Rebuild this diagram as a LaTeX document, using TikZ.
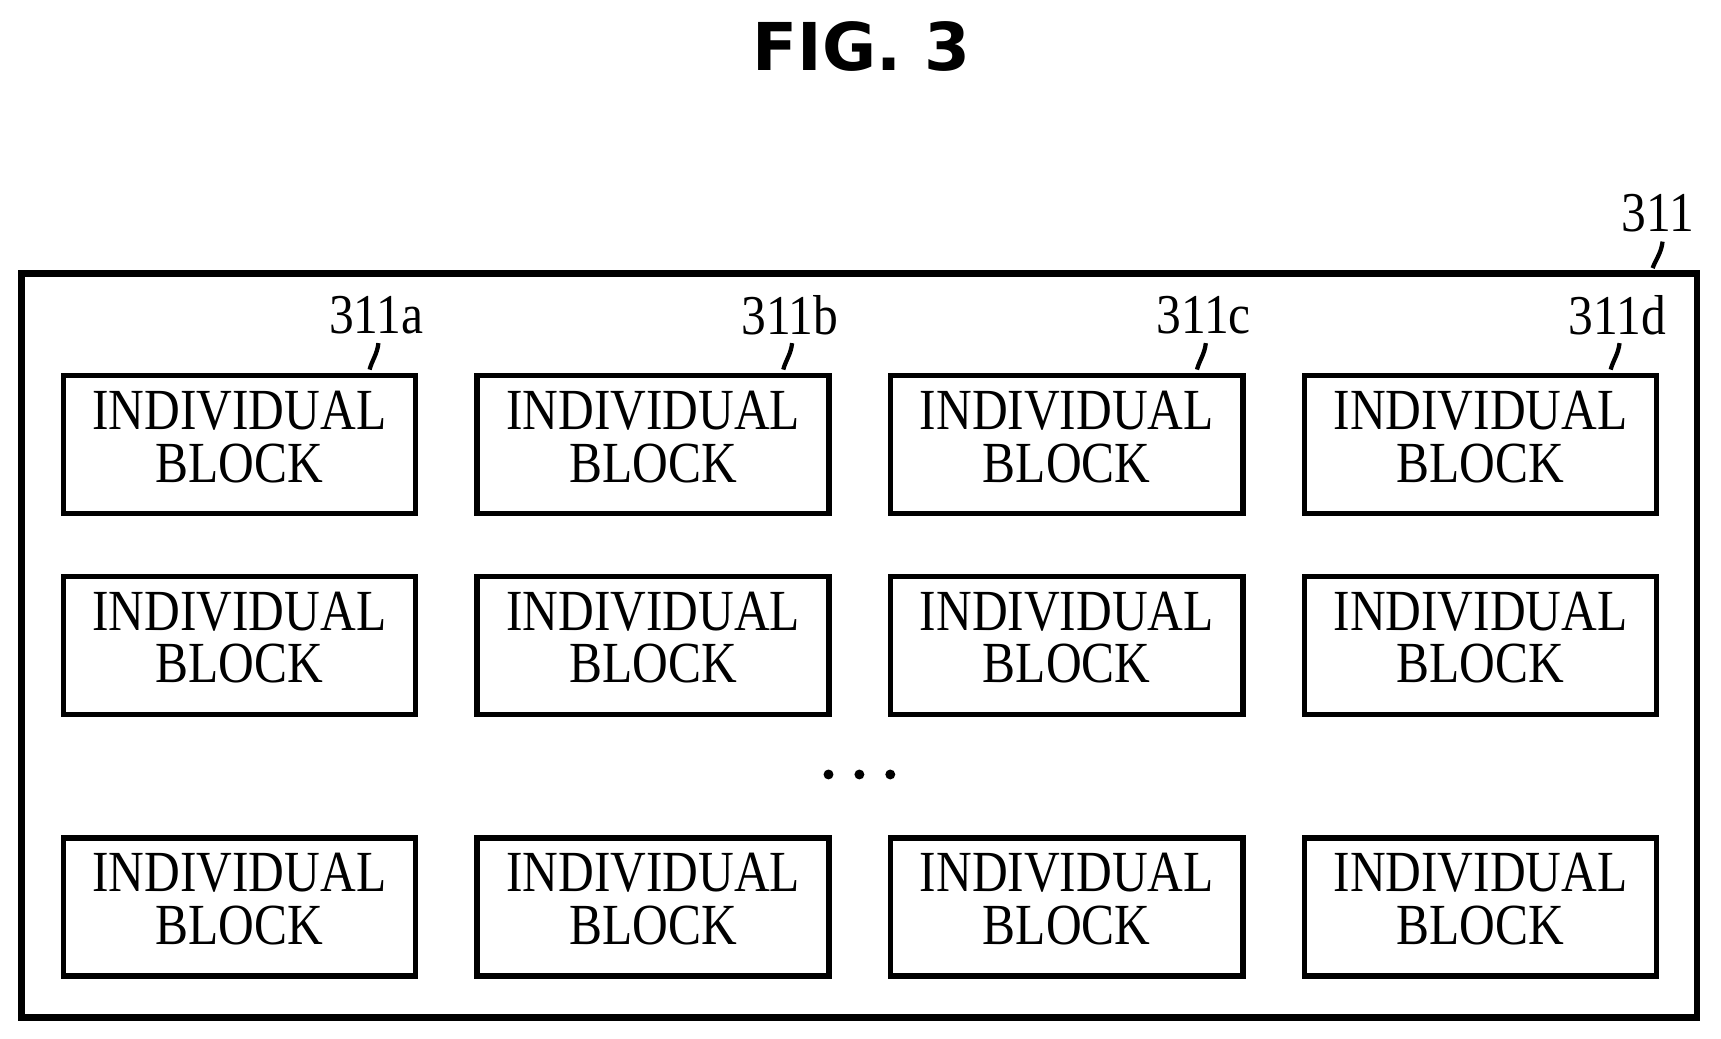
\documentclass[tikz,border=0pt]{standalone}
\usepackage{fontspec}
\setmainfont{Liberation Serif}
\setsansfont{DejaVu Sans}
\newcommand{\blocktext}{\scalebox{0.85}[1]{\fontsize{15}{14.5}\selectfont\begin{tabular}{@{}c@{}}INDIVIDUAL\\[-1pt]BLOCK\end{tabular}}}
\newcommand{\reftext}[1]{\scalebox{0.88}[1]{\fontsize{14.5}{15}\selectfont #1}}
\begin{document}
\begin{tikzpicture}
  [
    x=0.01cm, y=-0.01cm,
    block/.style = {draw, line width=1.4pt, minimum width=3.19cm, minimum height=1.25cm, inner sep=0pt},
    leader/.style = {line width=1.1pt},
  ]
  \useasboundingbox (0,0) rectangle (1560,941);

  \node[font=\sffamily\bfseries\fontsize{17}{18}\selectfont] (title) at (781,42) {FIG. 3};

  \node[draw, line width=1.6pt, minimum width=15.18cm, minimum height=6.74cm, inner sep=0pt] (frame) at (779,585) {};
  \node (lbl) at (1503,193) {\reftext{311}};
  \coordinate (lbltop) at (1507,219);
  \coordinate (lblend) at (1498,243);
  \draw[leader] (lbltop) .. controls (1506,229) and (1501,235) .. (lblend);

  % blocks
  \foreach \c/\x/\t in {1/217/a,2/592/b,3/967/c,4/1342/d}{
      \foreach \r/\y in {1/403,2/585,3/822} {
          \node[block] (b-\r-\c) at (\x,\y) {\raisebox{-1pt}{\blocktext}};
        }
      \node (l-\c) at (\x+124,286) {\reftext{311\t}};
      \coordinate (t-\c) at (\x+126,311);
      \coordinate (e-\c) at (\x+118,335);
      \draw[leader] (t-\c) .. controls (\x+125,321) and (\x+120,327) .. (e-\c);
    }

  % dots
  \foreach \d in {-1,0,1}{
      \fill (779+28*\d,702) circle (0.045cm);
    }
\end{tikzpicture}
\end{document}
